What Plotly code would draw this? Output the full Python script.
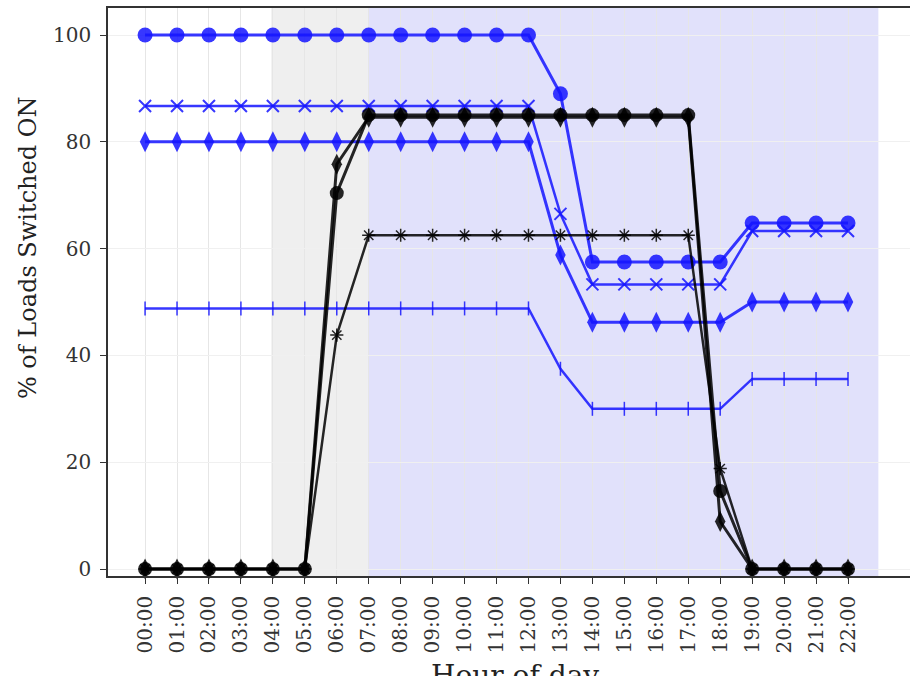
import plotly.graph_objects as go

hours = ["00:00", "01:00", "02:00", "03:00", "04:00", "05:00", "06:00", "07:00",
         "08:00", "09:00", "10:00", "11:00", "12:00", "13:00", "14:00", "15:00",
         "16:00", "17:00", "18:00", "19:00", "20:00", "21:00", "22:00"]

blue_circle = [100, 100, 100, 100, 100, 100, 100, 100, 100, 100, 100, 100, 100,
               89, 57.5, 57.5, 57.5, 57.5, 57.5, 64.8, 64.8, 64.8, 64.8]
blue_x = [86.7, 86.7, 86.7, 86.7, 86.7, 86.7, 86.7, 86.7, 86.7, 86.7, 86.7, 86.7, 86.7,
          66.5, 53.3, 53.3, 53.3, 53.3, 53.3, 63.3, 63.3, 63.3, 63.3]
blue_diamond = [80, 80, 80, 80, 80, 80, 80, 80, 80, 80, 80, 80, 80,
                58.8, 46.2, 46.2, 46.2, 46.2, 46.2, 50, 50, 50, 50]
blue_plus = [48.8, 48.8, 48.8, 48.8, 48.8, 48.8, 48.8, 48.8, 48.8, 48.8, 48.8, 48.8, 48.8,
             37.5, 30, 30, 30, 30, 30, 35.6, 35.6, 35.6, 35.6]

black_circle = [0, 0, 0, 0, 0, 0, 70.4, 85, 85, 85, 85, 85, 85, 85, 85, 85, 85, 85,
                14.6, 0, 0, 0, 0]
black_diamond = [0, 0, 0, 0, 0, 0, 75.8, 84.6, 84.6, 84.6, 84.6, 84.6, 84.6, 84.6, 84.6,
                 84.6, 84.6, 84.6, 8.9, 0, 0, 0, 0]
black_star = [0, 0, 0, 0, 0, 0, 43.8, 62.5, 62.5, 62.5, 62.5, 62.5, 62.5, 62.5, 62.5,
              62.5, 62.5, 62.5, 18.8, 0, 0, 0, 0]

y_ticks = [0, 20, 40, 60, 80, 100]

idx = list(range(len(hours)))
BLUE = "rgba(20,20,255,0.85)"
BLACK = "rgba(0,0,0,0.85)"
FONT = "DejaVu Serif"

fig = go.Figure()

def add(y, color, symbol, size, lw, mlw=0):
    fig.add_trace(go.Scatter(
        x=idx, y=y, mode="lines+markers",
        line=dict(color=color, width=lw),
        marker=dict(symbol=symbol, size=size, color=color,
                    line=dict(color=color, width=mlw)),
        showlegend=False, cliponaxis=False))

add(blue_plus, BLUE, "line-ns-open", 10, 2.5, 1.5)
add(blue_diamond, BLUE, "diamond-tall", 15, 3)
add(blue_x, BLUE, "x-thin-open", 12, 2.5, 2)
add(blue_circle, BLUE, "circle", 15, 3)
add(black_star, BLACK, "asterisk-open", 11, 2.5, 1.5)
add(black_diamond, BLACK, "diamond-tall", 15, 3)
add(black_circle, BLACK, "circle", 14, 3)

# shaded periods
fig.add_shape(type="rect", xref="x", yref="paper", x0=3.95, x1=6.97, y0=0, y1=1,
              fillcolor="#efefef", line=dict(width=0), layer="below")
fig.add_shape(type="rect", xref="x", yref="paper", x0=6.97, x1=22.95, y0=0, y1=1,
              fillcolor="#e1e1fb", line=dict(width=0), layer="below")

fig.add_annotation(text="% of Loads Switched ON", xref="paper", yref="paper",
                   x=-0.1, y=0.577, textangle=-90, showarrow=False,
                   xanchor="center", yanchor="middle",
                   font=dict(family=FONT, size=24, color="#222"))
fig.add_annotation(text="Hour of day", xref="paper", yref="paper",
                   x=0.508, y=-0.142, showarrow=False,
                   xanchor="center", yanchor="top",
                   font=dict(family=FONT, size=28, color="#222"))

fig.update_layout(
    width=910, height=676, autosize=False,
    margin=dict(l=108, r=0, t=8, b=100),
    paper_bgcolor="white", plot_bgcolor="white",
    xaxis=dict(range=[-1.16, 23.94], tickmode="array", tickvals=idx, ticktext=hours,
               tickangle=-90, ticks="outside", ticklen=6, tickcolor="#333",
               showline=True, linecolor="#333", linewidth=1.5, mirror=True,
               showgrid=True, gridcolor="#e6e6e6", gridwidth=1, zeroline=False,
               tickfont=dict(family=FONT, size=20, color="#333"),
               ticklabelstandoff=4),
    yaxis=dict(range=[-1.31, 105.06], tickmode="array", tickvals=y_ticks,
               ticks="outside", ticklen=6, tickcolor="#333",
               showline=True, linecolor="#333", linewidth=1.5, mirror=False,
               showgrid=True, gridcolor="#f0f0f0", gridwidth=1, zeroline=False,
               tickfont=dict(family=FONT, size=20, color="#333"),
               ticklabelstandoff=5),
)

fig.write_html("out.html")
